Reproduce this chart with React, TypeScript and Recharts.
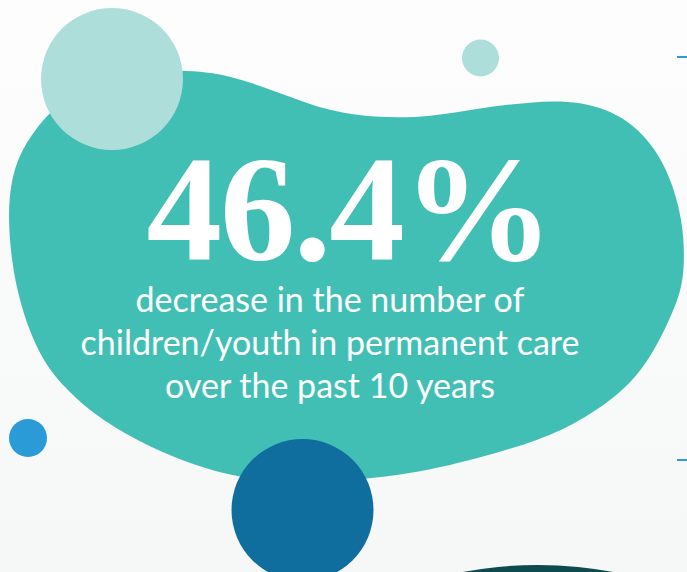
import { ScatterChart, Scatter, XAxis, YAxis } from 'recharts'

// outline of the teal blob, clockwise from the top-left
const blobX = [60, 110, 183, 230, 280, 330, 380, 430, 480, 530, 580, 630, 665, 684, 685, 673, 640, 583, 540, 480, 400, 300, 232, 160, 100, 63, 37, 15, 7, 12, 30]
const blobY = [100, 74, 69, 75, 93, 112, 118, 117, 108, 102, 100, 118, 160, 220, 280, 313, 380, 420, 440, 458, 477, 484, 478, 453, 420, 387, 353, 290, 220, 170, 135]

const lightCircles = [
  { x: 112, y: 79, r: 71 },
  { x: 480.5, y: 58, r: 18.5 },
]
const blueCircles = [{ x: 28, y: 438, r: 19 }]
const navyCircles = [{ x: 302.5, y: 510, r: 71 }]
const deepCircles = [{ x: 538, y: 972, r: 407 }]

const topMark = [{ x: 677, y: 57 }, { x: 687, y: 57 }]
const lowMark = [{ x: 677, y: 460 }, { x: 687, y: 460 }]

const headline = '46.4%'
const caption = ['decrease in the number of', 'children/youth in permanent care', 'over the past 10 years']

const blob = blobX.map((x, i) => ({ x, y: blobY[i] }))

const W = 687
const H = 572

function Dot(props: any) {
  const { cx, cy, payload, fill } = props
  return <circle cx={cx} cy={cy} r={payload.r} fill={fill} />
}

function Hidden() {
  return <g />
}

export default function App() {
  return (
    <div
      style={{
        position: 'fixed',
        left: 0,
        top: 0,
        width: W,
        height: H,
        background: 'linear-gradient(#fdfdfd, #f6f7f7)',
      }}
    >
      <ScatterChart width={W} height={H} margin={{ top: 0, right: 0, left: 0, bottom: 0 }}>
        <XAxis type="number" dataKey="x" domain={[0, W]} allowDataOverflow hide />
        <YAxis type="number" dataKey="y" domain={[0, H]} allowDataOverflow reversed hide />
        <Scatter
          data={blob}
          fill="#42bfb4"
          line={{ fill: '#42bfb4', stroke: 'none' }}
          lineType="joint"
          lineJointType="basisClosed"
          shape={Hidden}
          isAnimationActive={false}
        />
        <Scatter data={lightCircles} fill="#addeda" shape={Dot} isAnimationActive={false} />
        <Scatter data={blueCircles} fill="#2b9bd8" shape={Dot} isAnimationActive={false} />
        <Scatter data={navyCircles} fill="#106e9f" shape={Dot} isAnimationActive={false} />
        <Scatter data={deepCircles} fill="#0d4b4f" shape={Dot} isAnimationActive={false} />
        <Scatter data={topMark} fill="#2e9bd6" line={{ stroke: '#2e9bd6', strokeWidth: 2 }} lineType="joint" shape={Hidden} isAnimationActive={false} />
        <Scatter data={lowMark} fill="#2e9bd6" line={{ stroke: '#2e9bd6', strokeWidth: 2 }} lineType="joint" shape={Hidden} isAnimationActive={false} />
      </ScatterChart>
      <svg width={W} height={H} style={{ position: 'absolute', left: 0, top: 0, pointerEvents: 'none' }}>
        <text
          x={349}
          y={260}
          textAnchor="middle"
          fill="#fff"
          fontFamily="'Liberation Serif', serif"
          fontWeight={700}
          fontSize={151}
          letterSpacing={-2}
        >
          {headline}
        </text>
        {caption.map((line, i) => (
          <text
            key={line}
            x={330}
            y={312 + i * 43}
            textAnchor="middle"
            fill="#fff"
            fontFamily="Lato, sans-serif"
            fontSize={34}
          >
            {line}
          </text>
        ))}
      </svg>
    </div>
  )
}
